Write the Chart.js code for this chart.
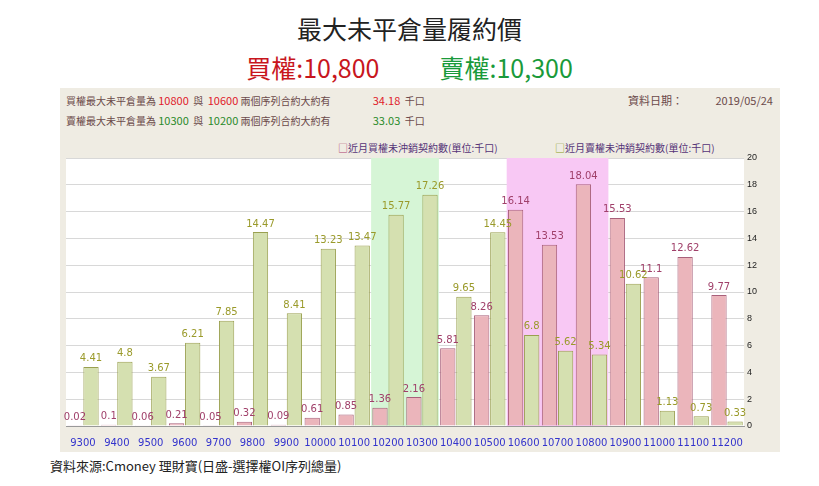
<!DOCTYPE html>
<html><head><meta charset="utf-8">
<script src="https://cdn.jsdelivr.net/npm/chart.js@4/dist/chart.umd.min.js"></script>
<style>
body{margin:0;width:819px;height:486px;background:#fff;font-family:"Noto Sans CJK TC",sans-serif;position:relative;overflow:hidden}
.t1{position:absolute;top:10px;left:0;width:819px;text-align:center;font-size:25px;color:#222}
.t2{position:absolute;top:50px;left:0;width:819px;text-align:center;font-size:25px;line-height:34px}
.box{position:absolute;left:60px;top:88px;width:720px;height:364px;background:#efece3}
.h{position:absolute;font-size:10px;color:#6b4a4a;white-space:nowrap}
.src{position:absolute;left:50px;top:456px;font-size:13px;color:#222}
#wrap{position:absolute;left:0;top:56px;width:720px;height:308px}
</style></head><body>
<div class="t1">最大未平倉量履約價</div>
<div class="t2"><span style="color:#c8161d">買權:10,800</span><span style="display:inline-block;width:60px"></span><span style="color:#1a9a3a">賣權:10,300</span></div>
<div class="box">
 <div class="h" style="left:6px;top:4px">買權最大未平倉量為 <span style="color:#e0202a;font-size:11px">10800</span> &nbsp;與&nbsp; <span style="color:#e0202a;font-size:11px">10600</span> 兩個序列合約大約有 <span style="color:#e0202a;font-size:11px;margin-left:40px">34.18</span> &nbsp;千口</div>
 <div class="h" style="left:6px;top:24px">賣權最大未平倉量為 <span style="color:#2a8a2a;font-size:11px">10300</span> &nbsp;與&nbsp; <span style="color:#2a8a2a;font-size:11px">10200</span> 兩個序列合約大約有 <span style="color:#2a8a2a;font-size:11px;margin-left:40px">33.03</span> &nbsp;千口</div>
 <div class="h" style="left:568px;top:4px;font-size:11px">資料日期： <span style="margin-left:30px">2019/05/24</span></div>
 <div class="h" style="left:278px;top:52px;color:#553377;font-size:10px"><span style="color:#b04070">□</span>近月買權未沖銷契約數(單位:千口)</div>
 <div class="h" style="left:495px;top:52px;color:#553377;font-size:10px"><span style="color:#8a9a20">□</span>近月賣權未沖銷契約數(單位:千口)</div>
 <div id="wrap"><canvas id="c"></canvas></div>
</div>
<div class="src">資料來源:Cmoney 理財寶(日盛-選擇權OI序列總量)</div>
<script>
const strikes=["9300","9400","9500","9600","9700","9800","9900","10000","10100","10200","10300","10400","10500","10600","10700","10800","10900","11000","11100","11200"];
const callOI=[0.02,0.1,0.06,0.21,0.05,0.32,0.09,0.61,0.85,1.36,2.16,5.81,8.26,16.14,13.53,18.04,15.53,11.1,12.62,9.77];
const putOI=[4.41,4.8,3.67,6.21,7.85,14.47,8.41,13.23,13.47,15.77,17.26,9.65,14.45,6.8,5.62,5.34,10.62,1.13,0.73,0.33];
const putBand=["10200","10300"], callBand=["10600","10800"];
const plug={id:'p',
 beforeDatasetsDraw(ch){const{ctx,chartArea:a,scales:{x}}=ch;const w=x.getPixelForValue(1)-x.getPixelForValue(0);
  const band=(b,col)=>{const l=x.getPixelForValue(strikes.indexOf(b[0]))-w/2,r=x.getPixelForValue(strikes.indexOf(b[1]))+w/2;ctx.fillStyle=col;ctx.fillRect(l,a.top,r-l,a.bottom-a.top);};
  band(putBand,'#d6f5d6');band(callBand,'#f8c8f4');},
 afterDatasetsDraw(ch){const ctx=ch.ctx;ctx.font='10px "DejaVu Sans"';ctx.textAlign='center';ctx.textBaseline='bottom';
  ch.data.datasets.forEach((d,i)=>{const m=ch.getDatasetMeta(i);ctx.fillStyle=i?'#9a9a2a':'#a0406a';
   m.data.forEach((b,j)=>ctx.fillText(d.data[j],b.x,b.y-3));});}};
new Chart(document.getElementById('c'),{type:'bar',
 data:{labels:strikes,datasets:[
  {data:callOI,backgroundColor:'#ebb5bb',borderColor:'#a8607a',borderWidth:1,barPercentage:0.95,categoryPercentage:0.95},
  {data:putOI,backgroundColor:'#d5e0b0',borderColor:'#9aa050',borderWidth:1,barPercentage:0.95,categoryPercentage:0.95}]},
 options:{responsive:true,maintainAspectRatio:false,animation:false,
  layout:{padding:{left:6,right:8,top:14,bottom:0}},
  plugins:{legend:{display:false},tooltip:{enabled:false}},
  scales:{x:{grid:{display:false},border:{color:'#999'},ticks:{color:'#3333cc',font:{size:10,family:'DejaVu Sans'},maxRotation:0,autoSkip:false}},
   y:{position:'right',min:0,max:20,afterFit(s){s.width=28},ticks:{stepSize:2,color:'#222',font:{size:9}},border:{display:false},grid:{color:'#d8d8d8',borderDash:[4,3],drawTicks:false}}}},
 plugins:[{id:'bg',beforeDraw(ch){const{ctx,chartArea:a}=ch;ctx.fillStyle='#fff';ctx.fillRect(a.left,a.top,a.right-a.left,a.bottom-a.top);}},plug]});
</script></body></html>
